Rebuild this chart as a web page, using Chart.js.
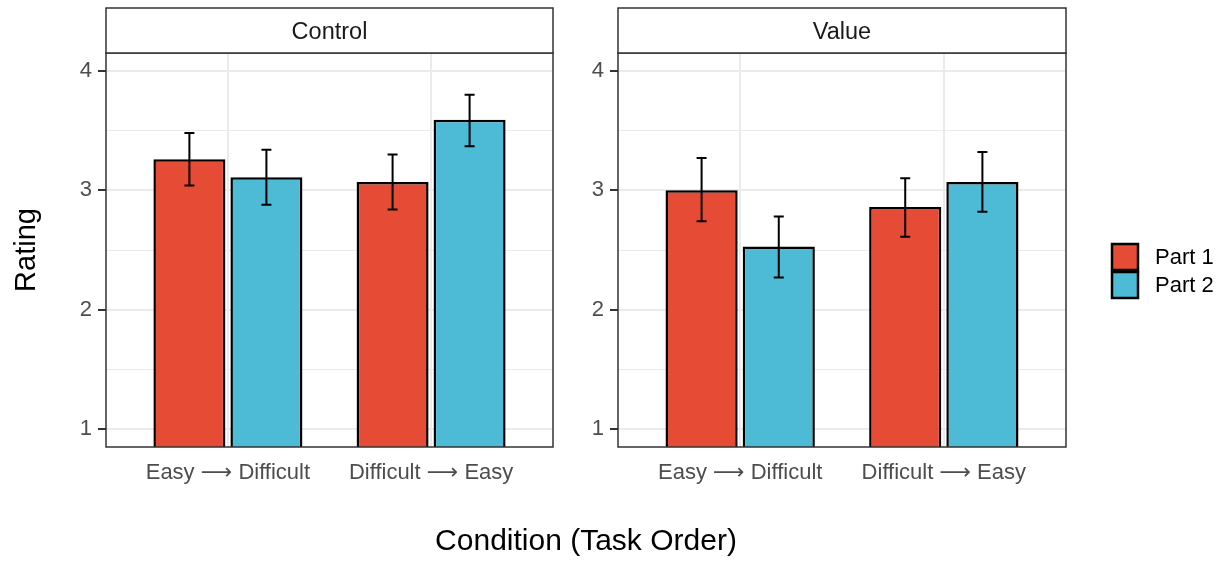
<!DOCTYPE html>
<html lang="en">
<head>
    <meta charset="UTF-8">
    <title>Rating by Condition</title>
    <script src="https://cdn.jsdelivr.net/npm/chart.js"></script>
    <style>
        body { margin: 0; background: #fff; }
        .wrap { position: relative; width: 1225px; height: 562px; font-family: "Liberation Sans", Arial, sans-serif; }
        .panel { position: absolute; top: 0; height: 562px; }
        #left-panel { left: 0; width: 560px; }
        #right-panel { left: 560px; width: 665px; }
        .x-title { position: absolute; left: 106px; width: 960px; top: 523px; text-align: center; font-size: 30px; color: #000; }
    </style>
</head>
<body>
<div class="wrap">
    <div class="panel" id="left-panel"><canvas id="control-chart"></canvas></div>
    <div class="panel" id="right-panel"><canvas id="value-chart"></canvas></div>
    <div class="x-title">Condition (Task Order)</div>
</div>
<script>
// data
const categories = ['Easy \u27F6 Difficult', 'Difficult \u27F6 Easy'];
const seriesNames = ['Part 1', 'Part 2'];
const yTicks = [1, 2, 3, 4];

const controlPart1 = [3.26, 3.07];
const controlPart2 = [3.11, 3.59];
const controlPart1Err = [[3.04, 3.48], [2.84, 3.30]];
const controlPart2Err = [[2.88, 3.34], [3.37, 3.80]];

const valuePart1 = [3.00, 2.86];
const valuePart2 = [2.53, 3.07];
const valuePart1Err = [[2.74, 3.27], [2.61, 3.10]];
const valuePart2Err = [[2.27, 2.78], [2.82, 3.32]];

const colors = ['#E64B35', '#4DBBD5'];
const FONT = '"Liberation Sans", Arial, "DejaVu Sans", sans-serif';

// strip, panel border, error bars, legend
const facetPlugin = {
    id: 'facet',
    afterDatasetsDraw(chart) {
        const ctx = chart.ctx;
        const area = chart.chartArea;
        const y = chart.scales.y;
        ctx.save();
        // error bars
        chart.data.datasets.forEach((ds, i) => {
            const meta = chart.getDatasetMeta(i);
            meta.data.forEach((bar, j) => {
                const lo = y.getPixelForValue(ds.errors[j][0]);
                const hi = y.getPixelForValue(ds.errors[j][1]);
                ctx.strokeStyle = '#000';
                ctx.lineWidth = 2;
                ctx.beginPath();
                ctx.moveTo(bar.x, lo); ctx.lineTo(bar.x, hi);
                ctx.moveTo(bar.x - 5, lo); ctx.lineTo(bar.x + 5, lo);
                ctx.moveTo(bar.x - 5, hi); ctx.lineTo(bar.x + 5, hi);
                ctx.stroke();
            });
        });
        // panel border
        ctx.strokeStyle = '#333333';
        ctx.lineWidth = 1.5;
        ctx.strokeRect(area.left, area.top, area.right - area.left, area.bottom - area.top);
        // strip
        const stripTop = area.top - 45;
        ctx.fillStyle = '#fff';
        ctx.fillRect(area.left, stripTop, area.right - area.left, 45);
        ctx.strokeRect(area.left, stripTop, area.right - area.left, 45);
        ctx.fillStyle = '#1A1A1A';
        ctx.font = '23.5px ' + FONT;
        ctx.textAlign = 'center';
        ctx.textBaseline = 'middle';
        ctx.fillText(chart.options.plugins.facet.label, (area.left + area.right) / 2, stripTop + 25);
        // legend
        if (chart.options.plugins.facet.legend) {
            const x0 = area.right + 46;
            const y0 = 244;
            ctx.font = '22px ' + FONT;
            chart.data.datasets.forEach((ds, i) => {
                ctx.fillStyle = ds.backgroundColor;
                ctx.fillRect(x0, y0 + i * 28, 26, 26);
                ctx.strokeStyle = '#000';
                ctx.lineWidth = 2.5;
                ctx.strokeRect(x0, y0 + i * 28, 26, 26);
                ctx.fillStyle = '#000';
                ctx.textAlign = 'left';
                ctx.fillText(ds.label, x0 + 43, y0 + i * 28 + 14);
            });
        }
        ctx.restore();
    }
};

function makeChart(id, title, part1, part2, err1, err2, opts) {
    const toPoints = vals => vals.map((v, i) => ({ x: i + 1, y: v }));
    return new Chart(document.getElementById(id), {
        type: 'bar',
        data: {
            datasets: [
                { label: seriesNames[0], data: toPoints(part1), errors: err1, backgroundColor: colors[0] },
                { label: seriesNames[1], data: toPoints(part2), errors: err2, backgroundColor: colors[1] }
            ]
        },
        options: {
            responsive: true,
            maintainAspectRatio: false,
            animation: false,
            clip: 0,
            datasets: {
                bar: {
                    borderColor: '#000',
                    borderWidth: 2.5,
                    borderSkipped: false,
                    categoryPercentage: 0.758,
                    barPercentage: 0.935
                }
            },
            layout: { padding: { top: 53, left: 0, right: opts.padRight, bottom: 65 } },
            plugins: {
                legend: { display: false },
                tooltip: { enabled: false },
                facet: { label: title, legend: opts.legend }
            },
            scales: {
                x: {
                    type: 'linear',
                    min: 0.4,
                    max: 2.6,
                    offset: false,
                    afterBuildTicks: s => { s.ticks = categories.map((c, i) => ({ value: i + 1 })); },
                    afterFit: s => { s.height = 50; },
                    border: { display: false },
                    grid: { color: '#EBEBEB', lineWidth: 2, drawTicks: false, offset: false },
                    ticks: {
                        padding: 13,
                        color: '#4D4D4D',
                        font: { size: 22, family: FONT },
                        maxRotation: 0,
                        callback: v => categories[v - 1]
                    }
                },
                y: {
                    min: 0.85,
                    max: 4.15,
                    afterBuildTicks: s => {
                        const t = [];
                        yTicks.forEach((v, i) => {
                            t.push({ value: v });
                            if (i < yTicks.length - 1) t.push({ value: v + 0.5 });
                        });
                        s.ticks = t;
                    },
                    afterFit: s => { s.width = opts.axisWidth; },
                    border: { display: false },
                    grid: {
                        color: '#EBEBEB',
                        lineWidth: c => (c.tick && Number.isInteger(c.tick.value)) ? 2 : 1,
                        tickColor: c => (c.tick && Number.isInteger(c.tick.value)) ? '#333333' : 'rgba(0,0,0,0)',
                        tickWidth: 2,
                        tickLength: 8
                    },
                    ticks: {
                        padding: 6,
                        color: '#4D4D4D',
                        font: { size: 22, family: FONT },
                        callback: v => Number.isInteger(v) ? String(v) : ''
                    },
                    title: {
                        display: opts.yTitle,
                        text: 'Rating',
                        color: '#000',
                        font: { size: 29, family: FONT },
                        padding: { top: 10, bottom: 0 }
                    }
                }
            }
        },
        plugins: [facetPlugin]
    });
}

makeChart('control-chart', 'Control', controlPart1, controlPart2, controlPart1Err, controlPart2Err,
    { padRight: 7, axisWidth: 106, yTitle: true, legend: false });
makeChart('value-chart', 'Value', valuePart1, valuePart2, valuePart1Err, valuePart2Err,
    { padRight: 159, axisWidth: 58, yTitle: false, legend: true });
</script>
</body>
</html>
